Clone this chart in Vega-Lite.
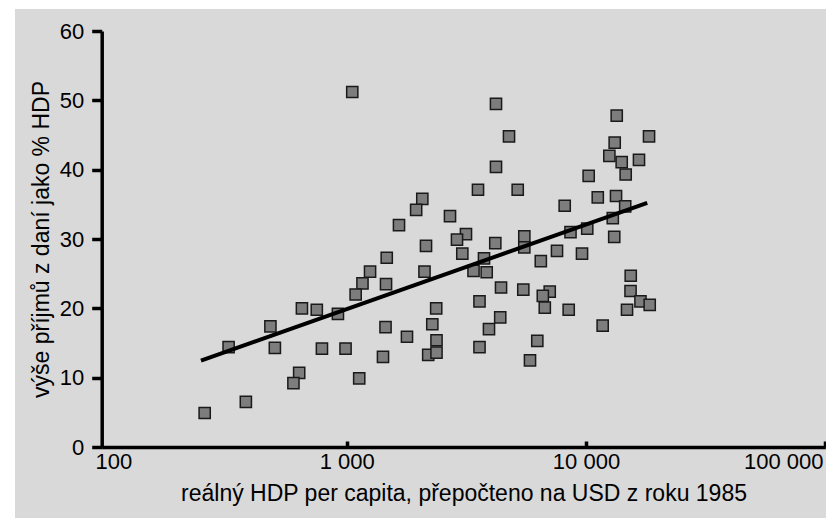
{
  "$schema": "https://vega.github.io/schema/vega-lite/v6.json",
  "autosize": {"type": "none"},
  "width": 811,
  "height": 509,
  "padding": {"left": 15, "top": 9, "right": 0, "bottom": 0},
  "background": "white",
  "config": {
    "font": "Liberation Sans",
    "view": {"fill": "#d9d9d9", "stroke": null},
    "axis": {
      "grid": false,
      "domainColor": "black",
      "domainWidth": 3.5,
      "tickColor": "black",
      "tickWidth": 3.5,
      "labelColor": "black",
      "titleColor": "black",
      "labelFont": "Liberation Sans",
      "titleFont": "Liberation Sans",
      "titleFontWeight": "normal",
      "labelFlush": false,
      "labelOverlap": false
    }
  },
  "datasets": {
    "countries": [
      {"hdp": 1055, "dane": 51.2}, {"hdp": 3537, "dane": 37.1}, {"hdp": 2070, "dane": 35.8},
      {"hdp": 1951, "dane": 34.2}, {"hdp": 2702, "dane": 33.3}, {"hdp": 1654, "dane": 32.0},
      {"hdp": 3151, "dane": 30.7}, {"hdp": 2890, "dane": 29.9}, {"hdp": 2145, "dane": 29.0},
      {"hdp": 3042, "dane": 27.9}, {"hdp": 1470, "dane": 27.3}, {"hdp": 3748, "dane": 27.2},
      {"hdp": 3388, "dane": 25.4}, {"hdp": 2114, "dane": 25.3}, {"hdp": 1252, "dane": 25.3},
      {"hdp": 1164, "dane": 23.6}, {"hdp": 1460, "dane": 23.5}, {"hdp": 1090, "dane": 22.0},
      {"hdp": 650, "dane": 20.0}, {"hdp": 750, "dane": 19.8}, {"hdp": 919, "dane": 19.2},
      {"hdp": 2366, "dane": 20.0}, {"hdp": 3589, "dane": 21.0}, {"hdp": 480, "dane": 17.4},
      {"hdp": 1453, "dane": 17.3}, {"hdp": 2279, "dane": 17.7}, {"hdp": 1786, "dane": 15.9},
      {"hdp": 2373, "dane": 15.4}, {"hdp": 321, "dane": 14.4}, {"hdp": 501, "dane": 14.3},
      {"hdp": 788, "dane": 14.2}, {"hdp": 989, "dane": 14.2}, {"hdp": 1418, "dane": 13.0},
      {"hdp": 2191, "dane": 13.3}, {"hdp": 2373, "dane": 13.6}, {"hdp": 3589, "dane": 14.4},
      {"hdp": 633, "dane": 10.7}, {"hdp": 599, "dane": 9.2}, {"hdp": 1128, "dane": 9.9},
      {"hdp": 379, "dane": 6.5}, {"hdp": 255, "dane": 4.9}, {"hdp": 4206, "dane": 49.5},
      {"hdp": 13440, "dane": 47.8}, {"hdp": 4767, "dane": 44.8}, {"hdp": 18340, "dane": 44.8},
      {"hdp": 13180, "dane": 43.9}, {"hdp": 12520, "dane": 42.0}, {"hdp": 14100, "dane": 41.1},
      {"hdp": 16650, "dane": 41.4}, {"hdp": 14650, "dane": 39.3}, {"hdp": 4206, "dane": 40.4},
      {"hdp": 10260, "dane": 39.1}, {"hdp": 5184, "dane": 37.1}, {"hdp": 11200, "dane": 36.0},
      {"hdp": 13350, "dane": 36.2}, {"hdp": 8147, "dane": 34.8}, {"hdp": 14580, "dane": 34.7},
      {"hdp": 12940, "dane": 33.0}, {"hdp": 8614, "dane": 31.0}, {"hdp": 10120, "dane": 31.5},
      {"hdp": 13120, "dane": 30.3}, {"hdp": 5524, "dane": 30.4}, {"hdp": 5524, "dane": 28.8},
      {"hdp": 4178, "dane": 29.4}, {"hdp": 6474, "dane": 26.8}, {"hdp": 7565, "dane": 28.3},
      {"hdp": 9623, "dane": 27.9}, {"hdp": 3846, "dane": 25.2}, {"hdp": 15380, "dane": 24.7},
      {"hdp": 15350, "dane": 22.5}, {"hdp": 16890, "dane": 21.0}, {"hdp": 18460, "dane": 20.5},
      {"hdp": 14840, "dane": 19.8}, {"hdp": 4415, "dane": 23.0}, {"hdp": 5470, "dane": 22.7},
      {"hdp": 7054, "dane": 22.4}, {"hdp": 6600, "dane": 21.8}, {"hdp": 6727, "dane": 20.1},
      {"hdp": 8467, "dane": 19.8}, {"hdp": 4381, "dane": 18.7}, {"hdp": 3932, "dane": 17.0},
      {"hdp": 11740, "dane": 17.5}, {"hdp": 6259, "dane": 15.3}, {"hdp": 5834, "dane": 12.5}
    ],
    "trend": [
      {"hdp": 246, "dane": 12.45},
      {"hdp": 18030, "dane": 35.2}
    ]
  },
  "layer": [
    {
      "data": {"name": "countries"},
      "mark": {"type": "point", "shape": "square", "filled": true, "size": 125, "fill": "#7d7d7d", "stroke": "#1a1a1a", "strokeWidth": 1.5, "opacity": 1},
      "encoding": {
        "x": {
          "field": "hdp", "type": "quantitative",
          "scale": {"type": "log", "domain": [94.67, 100000], "range": [86.7, 810.3], "nice": false, "zero": false},
          "axis": {
            "orient": "bottom",
            "offset": -71,
            "values": [100, 1000, 10000, 100000],
            "labelExpr": "datum.value >= 1000 ? replace(format(datum.value, ','), ',', ' ') : '100'",
            "labelFontSize": 22,
            "labelPadding": 10,
            "tickSize": -6,
            "tickOpacity": {"condition": {"test": "datum.value === 100", "value": 0}, "value": 1},
            "labelOffset": {"condition": [{"test": "datum.value === 100", "value": 6}, {"test": "datum.value === 100000", "value": -42}], "value": 0},
            "title": "reálný HDP per capita, přepočteno na USD z roku 1985",
            "titleFontSize": 23,
            "titlePadding": 10
          }
        },
        "y": {
          "field": "dane", "type": "quantitative",
          "scale": {"domain": [0, 60], "range": [438, 22], "nice": false, "zero": true},
          "axis": {
            "orient": "left",
            "offset": -86.7,
            "values": [0, 10, 20, 30, 40, 50, 60],
            "labelFontSize": 22,
            "labelPadding": 8,
            "tickSize": 10,
            "title": "výše příjmů z daní jako % HDP",
            "titleFontSize": 23,
            "titlePadding": 6
          }
        }
      }
    },
    {
      "data": {"name": "trend"},
      "mark": {"type": "line", "color": "black", "strokeWidth": 4, "strokeCap": "butt"},
      "encoding": {
        "x": {"field": "hdp", "type": "quantitative"},
        "y": {"field": "dane", "type": "quantitative"}
      }
    }
  ]
}
